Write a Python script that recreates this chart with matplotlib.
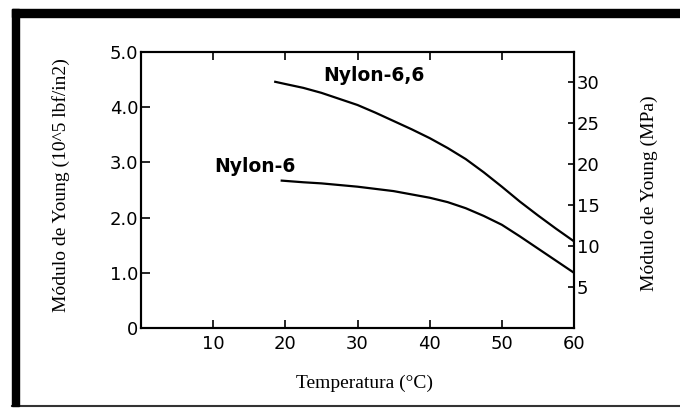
import matplotlib
matplotlib.use("Agg")
import matplotlib.pyplot as plt
from matplotlib.patches import Rectangle
from matplotlib.lines import Line2D

# Data
temp_66 = [18.6, 20, 22.5, 25, 27.5, 30, 32.5, 35, 37.5, 40, 42.5, 45, 47.5,
           50, 52.5, 55, 57.5, 60]
young_66 = [4.46, 4.42, 4.35, 4.26, 4.15, 4.04, 3.90, 3.75, 3.60, 3.44, 3.26,
            3.06, 2.82, 2.56, 2.29, 2.04, 1.80, 1.57]
temp_6 = [19.5, 22.5, 25, 27.5, 30, 32.5, 35, 37.5, 40, 42.5, 45, 47.5, 50,
          52.5, 55, 57.5, 60]
young_6 = [2.67, 2.64, 2.62, 2.59, 2.56, 2.52, 2.48, 2.42, 2.36, 2.28, 2.17,
           2.03, 1.87, 1.66, 1.44, 1.22, 1.0]

xticks = [10, 20, 30, 40, 50, 60]
yticks = [0, 1, 2, 3, 4, 5]
ytick_labels = ["0", "1.0", "2.0", "3.0", "4.0", "5.0"]
mpa_ticks = [5, 10, 15, 20, 25, 30]
mpa_per_unit = 6.73

fig = plt.figure(figsize=(6.8, 4.08), dpi=100)
ax = fig.add_axes([141/680, 1-328/408, (574-141)/680, (328-52)/408])

ax.plot(temp_66, young_66, color="black", lw=1.6)
ax.plot(temp_6, young_6, color="black", lw=1.6)

ax.set_xlim(0, 60)
ax.set_ylim(0, 5)
ax.set_xticks(xticks)
ax.set_xticklabels([str(t) for t in xticks])
ax.set_yticks(yticks)
ax.set_yticklabels(ytick_labels)
ax.tick_params(axis="x", direction="in", length=6, width=1.2, pad=5,
               labelsize=13, top=True)
ax.tick_params(axis="y", direction="in", length=6.5, width=1.2, pad=2,
               labelsize=13)
for s in ax.spines.values():
    s.set_linewidth(1.5)

ax.text(25.2, 4.57, "Nylon-6,6", fontsize=13.5, fontweight="semibold",
        va="center", ha="left")
ax.text(10.1, 2.93, "Nylon-6", fontsize=13.5, fontweight="semibold",
        va="center", ha="left")

fig.text(364/680, 1-383/408, "Temperatura (°C)", family="Liberation Serif",
         fontsize=14, ha="center", va="center")
fig.text(61/680, 1-185/408, "Módulo de Young (10^5 lbf/in2)",
         family="Liberation Serif", fontsize=14, rotation=90,
         ha="center", va="center")

ax2 = ax.twinx()
ax2.set_ylim(0, 5 * mpa_per_unit)
ax2.set_yticks(mpa_ticks)
ax2.set_yticklabels([str(t) for t in mpa_ticks])
ax2.tick_params(axis="y", direction="in", length=4.5, width=1.2, pad=2,
                labelsize=13)
for s in ax2.spines.values():
    s.set_linewidth(1.5)
fig.text(649/680, 1-193/408, "Módulo de Young (MPa)",
         family="Liberation Serif", fontsize=14, rotation=90,
         ha="center", va="center")

# Image border
fig.patches.append(Rectangle((12/680, 1-17/408), 1, 8/408, transform=fig.transFigure,
                             color="black", zorder=10))
fig.patches.append(Rectangle((12/680, 1-406/408), 7/680, (406-9)/408,
                             transform=fig.transFigure, color="black", zorder=10))
fig.lines.append(Line2D([12/680, 1], [1-406/408, 1-406/408], transform=fig.transFigure,
                        color="#333333", lw=1.5))

fig.savefig("out.png", dpi=100)
